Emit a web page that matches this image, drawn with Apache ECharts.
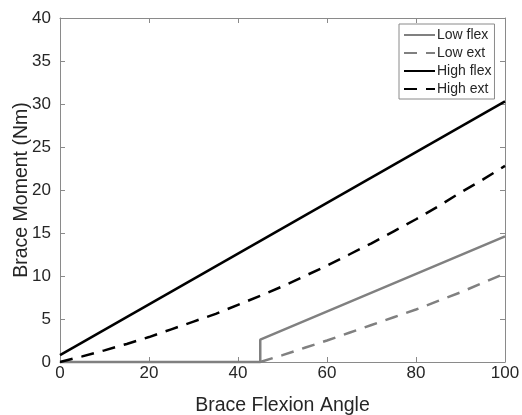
<!DOCTYPE html>
<html>
<head>
<meta charset="utf-8">
<script src="https://cdn.jsdelivr.net/npm/echarts@6/dist/echarts.min.js"></script>
<style>
  html, body { margin: 0; padding: 0; background: #fff; }
  #chart { width: 522px; height: 415px; }
</style>
</head>
<body>
<div id="chart"></div>
<script>
// Brace moment vs flexion angle
const xTicks = [0, 20, 40, 60, 80, 100];
const yTicks = [0, 5, 10, 15, 20, 25, 30, 35, 40];

const lowFlexAngles = [0, 45, 45, 100];
const lowFlexMoment = [0, 0, 2.6, 14.6];

const lowExtAngles = [45, 50, 55, 60, 65, 70, 75, 80, 85, 90, 95, 100];
const lowExtMoment = [0, 0.8, 1.65, 2.5, 3.4, 4.3, 5.2, 6.1, 7.1, 8.1, 9.2, 10.3];

const highFlexAngles = [0, 100];
const highFlexMoment = [0.8, 30.3];

const highExtAngles = [0, 5, 10, 15, 20, 25, 30, 35, 40, 45, 50, 55, 60, 65, 70, 75, 80, 85, 90, 95, 100];
const highExtMoment = [0, 0.65, 1.35, 2.1, 2.9, 3.8, 4.7, 5.6, 6.65, 7.7, 8.8, 10.0, 11.2, 12.5, 13.8, 15.2, 16.6, 18.1, 19.7, 21.2, 22.8];

const pairs = (xs, ys) => xs.map((x, i) => [x, ys[i]]);

const axisColor = '#8a8a8a';
const textColor = '#262626';
const font = 'Liberation Sans, Arial, Helvetica, sans-serif';

const chart = echarts.init(document.getElementById('chart'), null, { renderer: 'canvas' });

const mkSeries = (name, data, color, dashed) => ({
  name,
  type: 'line',
  data,
  showSymbol: false,
  symbol: 'none',
  clip: false,
  animation: false,
  lineStyle: { color, width: 2.5, type: dashed ? [13, 9] : 'solid' },
  itemStyle: { color },
});

const option = {
  backgroundColor: '#fff',
  animation: false,
  grid: { left: 60, right: 17, top: 18, bottom: 53, show: false, outerBoundsMode: 'none', containLabel: false },
  legend: {
    orient: 'vertical',
    left: 399,
    top: 24,
    padding: [4, 3, 3, 4],
    itemGap: 4,
    itemWidth: 31,
    itemHeight: 14,
    borderColor: axisColor,
    borderWidth: 1,
    backgroundColor: '#fff',
    itemStyle: { opacity: 0 },
    textStyle: { fontFamily: font, fontSize: 14, color: textColor, padding: [0, 0, 0, -3] },
    data: ['Low flex', 'Low ext', 'High flex', 'High ext'],
  },
  xAxis: [
    {
      type: 'value',
      min: 0,
      max: 100,
      interval: 20,
      name: 'Brace Flexion Angle',
      nameLocation: 'middle',
      nameGap: 34,
      nameTextStyle: { fontFamily: font, fontSize: 19.5, color: textColor },
      axisLine: { show: true, onZero: false, lineStyle: { color: axisColor, width: 1 } },
      axisTick: { show: true, inside: true, length: 5, lineStyle: { color: axisColor } },
      axisLabel: { fontFamily: font, fontSize: 17, color: textColor, margin: 3 },
      splitLine: { show: false },
    },
    {
      type: 'value',
      position: 'top',
      min: 0,
      max: 100,
      interval: 20,
      axisLine: { show: true, onZero: false, lineStyle: { color: axisColor, width: 1 } },
      axisTick: { show: true, inside: true, length: 5, lineStyle: { color: axisColor } },
      axisLabel: { show: false },
      splitLine: { show: false },
    },
  ],
  yAxis: [
    {
      type: 'value',
      min: 0,
      max: 40,
      interval: 5,
      name: 'Brace Moment (Nm)',
      nameLocation: 'middle',
      nameGap: 28,
      nameMoveOverlap: false,
      nameTextStyle: { fontFamily: font, fontSize: 19.5, color: textColor },
      axisLine: { show: true, onZero: false, lineStyle: { color: axisColor, width: 1 } },
      axisTick: { show: true, inside: true, length: 5, lineStyle: { color: axisColor } },
      axisLabel: { fontFamily: font, fontSize: 17, color: textColor, margin: 9 },
      splitLine: { show: false },
    },
    {
      type: 'value',
      position: 'right',
      min: 0,
      max: 40,
      interval: 5,
      axisLine: { show: true, onZero: false, lineStyle: { color: axisColor, width: 1 } },
      axisTick: { show: true, inside: true, length: 5, lineStyle: { color: axisColor } },
      axisLabel: { show: false },
      splitLine: { show: false },
    },
  ],
  series: [
    mkSeries('Low flex', pairs(lowFlexAngles, lowFlexMoment), '#808080', false),
    mkSeries('Low ext', pairs(lowExtAngles, lowExtMoment), '#808080', true),
    mkSeries('High flex', pairs(highFlexAngles, highFlexMoment), '#000000', false),
    mkSeries('High ext', pairs(highExtAngles, highExtMoment), '#000000', true),
  ],
};

chart.setOption(option);
</script>
</body>
</html>
